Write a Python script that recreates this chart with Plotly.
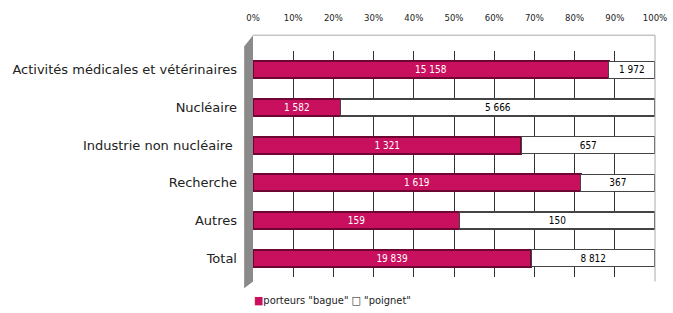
import plotly.graph_objects as go

categories = ["Activités médicales et vétérinaires", "Nucléaire", "Industrie non nucléaire ",
              "Recherche", "Autres", "Total"]
bague = [15158, 1582, 1321, 1619, 159, 19839]
poignet = [1972, 5666, 657, 367, 150, 8812]
tick_vals = [0, 10, 20, 30, 40, 50, 60, 70, 80, 90, 100]
tick_text = [f"{v}%" for v in tick_vals]

BAGUE_COLOR = "#C8105E"

def fmt(v):
    return f"{v:,}".replace(",", " ")

fig = go.Figure()
fig.add_trace(go.Bar(
    y=categories, x=bague, orientation="h", name='porteurs "bague"',
    marker=dict(color=BAGUE_COLOR, line=dict(color="#6E0633", width=2)),
    text=[fmt(v) for v in bague], textposition="inside", insidetextanchor="middle",
    textfont=dict(color="white", size=10, family="DejaVu Sans Condensed"),
))
fig.add_trace(go.Bar(
    y=categories, x=poignet, orientation="h", name='"poignet"',
    marker=dict(color="white", line=dict(color="#444444", width=1.2)),
    text=[fmt(v) for v in poignet], textposition="inside", insidetextanchor="middle",
    textfont=dict(color="black", size=10, family="DejaVu Sans Condensed"),
))

# grey left wall (3D look)
fig.add_shape(type="path", xref="paper", yref="paper",
              path="M -0.022,-0.05 L 0,-0.02 L 0,1.07 L -0.022,1.02 Z",
              fillcolor="#8A8A8A", line=dict(width=0), layer="below")

fig.add_annotation(
    xref="paper", yref="paper", x=-0.003, y=-0.102,
    xanchor="left", yanchor="middle", showarrow=False,
    text=f'<span style="color:{BAGUE_COLOR}">■</span>porteurs "bague" □ "poignet"',
    font=dict(size=11, family="DejaVu Sans Condensed", color="#222222"),
)

fig.update_layout(
    width=673, height=313,
    barmode="stack", barnorm="percent", bargap=0.55,
    paper_bgcolor="white", plot_bgcolor="white",
    margin=dict(l=253, r=18, t=51, b=36),
    font=dict(family="DejaVu Sans", size=13, color="#222222"),
    showlegend=False,
    xaxis=dict(side="top", range=[0, 100], tickvals=tick_vals, ticktext=tick_text,
               showgrid=True, gridcolor="#333333", gridwidth=1, zeroline=False,
               showline=False, ticks="", ticklabelstandoff=27, automargin=False,
               tickfont=dict(size=9.5, family="DejaVu Sans Condensed")),
    yaxis=dict(autorange="reversed", showgrid=False, ticks="", showline=False,
               ticklabelstandoff=15, automargin=False),
    uniformtext=dict(minsize=8, mode="show"),
)
fig.add_shape(type="line", xref="paper", yref="paper", x0=0, x1=1, y0=1.07, y1=1.07,
              line=dict(color="#AAAAAA", width=1))
fig.add_shape(type="line", xref="paper", yref="paper", x0=1, x1=1, y0=-0.02, y1=1.07,
              line=dict(color="#AAAAAA", width=1))

fig.write_html("out.html", config={"displayModeBar": False},
               post_script="document.body.style.margin='0';")
